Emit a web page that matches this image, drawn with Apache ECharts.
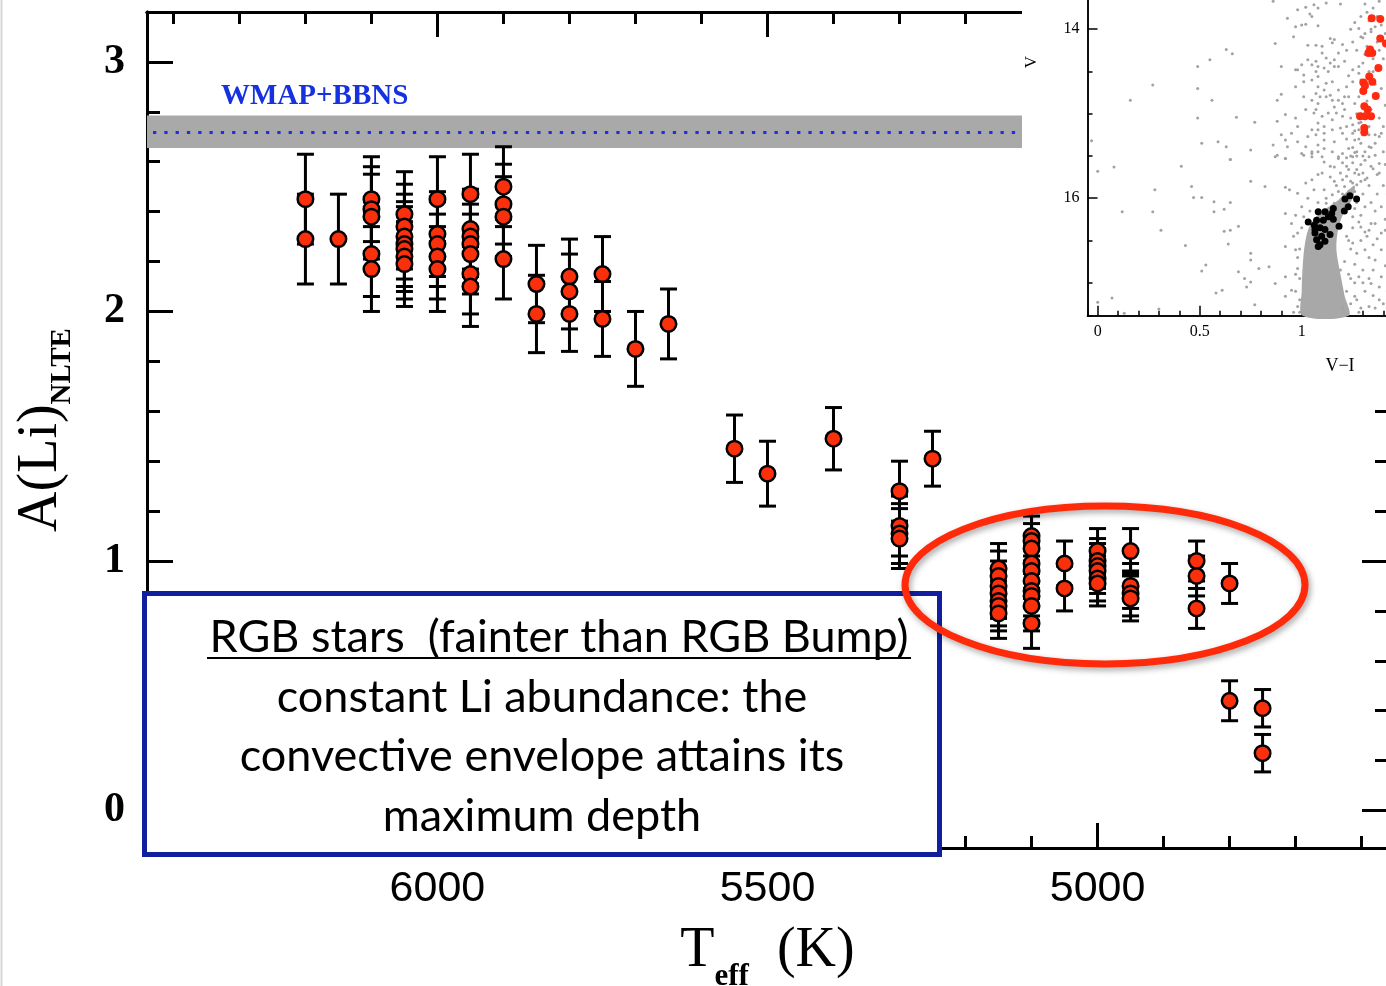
<!DOCTYPE html>
<html>
<head>
<meta charset="utf-8">
<title>A(Li) vs Teff</title>
<script src="https://cdn.jsdelivr.net/npm/echarts@6.0.0/dist/echarts.min.js"></script>
<style>
  html, body { margin: 0; padding: 0; background: #fff; }
  #chart { width: 1386px; height: 986px; }
</style>
</head>
<body>
<div id="chart"></div>
<script>
// ---- Lithium abundance of the RGB sample, one entry per star ----
const starTeff = [
  6200, 6200,
  6150,
  6100, 6100, 6100, 6100, 6100,
  6050, 6050, 6050, 6050, 6050, 6050, 6050,
  6000, 6000, 6000, 6000, 6000,
  5950, 5950, 5950, 5950, 5950, 5950, 5950,
  5900, 5900, 5900, 5900,
  5850, 5850,
  5800, 5800, 5800,
  5750, 5750,
  5700,
  5650,
  5550,
  5500,
  5400,
  5300, 5300, 5300, 5300,
  5250,
  5150, 5150, 5150, 5150, 5150, 5150, 5150,
  5100, 5100, 5100, 5100, 5100, 5100, 5100, 5100, 5100, 5100,
  5050, 5050,
  5000, 5000, 5000, 5000, 5000, 5000,
  4950, 4950, 4950, 4950,
  4850, 4850, 4850,
  4800, 4800,
  4750, 4750
];
const starALi = [
  2.45, 2.29,
  2.29,
  2.45, 2.41, 2.38, 2.23, 2.17,
  2.39, 2.34, 2.30, 2.27, 2.25, 2.22, 2.19,
  2.45, 2.31, 2.27, 2.22, 2.17,
  2.47, 2.33, 2.30, 2.27, 2.23, 2.15, 2.10,
  2.50, 2.43, 2.38, 2.21,
  2.11, 1.99,
  2.14, 2.08, 1.99,
  2.15, 1.97,
  1.85,
  1.95,
  1.45,
  1.35,
  1.49,
  1.28, 1.14, 1.11, 1.09,
  1.41,
  0.97, 0.94, 0.90, 0.87, 0.84, 0.82, 0.79,
  1.10, 1.08, 1.05, 0.99, 0.96, 0.92, 0.88, 0.86, 0.82, 0.75,
  0.99, 0.89,
  1.04, 1.00, 0.98, 0.96, 0.93, 0.91,
  1.04, 0.90, 0.87, 0.85,
  1.00, 0.94, 0.81,
  0.91, 0.44,
  0.41, 0.23
];
const starErr = [
  0.18, 0.18,
  0.18,
  0.17, 0.17, 0.17, 0.17, 0.17,
  0.17, 0.17, 0.17, 0.17, 0.17, 0.17, 0.17,
  0.17, 0.17, 0.17, 0.17, 0.17,
  0.16, 0.16, 0.16, 0.16, 0.16, 0.16, 0.16,
  0.16, 0.16, 0.16, 0.16,
  0.155, 0.155,
  0.15, 0.15, 0.15,
  0.15, 0.15,
  0.15,
  0.14,
  0.135,
  0.13,
  0.125,
  0.12, 0.12, 0.12, 0.12,
  0.11,
  0.10, 0.10, 0.10, 0.10, 0.10, 0.10, 0.10,
  0.10, 0.10, 0.10, 0.10, 0.10, 0.10, 0.10, 0.10, 0.10, 0.10,
  0.09, 0.09,
  0.09, 0.09, 0.09, 0.09, 0.09, 0.09,
  0.09, 0.09, 0.09, 0.09,
  0.08, 0.08, 0.08,
  0.08, 0.08,
  0.075, 0.075
];

// Primordial Li from WMAP + standard BBN
const bbnLi = 2.72;
const bbnLiErr = 0.065;

// Axis ranges and tick steps
const teffRange = [4560, 6440];
const teffMinorStep = 100, teffMajorStep = 500;
const aLiRange = [-0.15, 3.2];
const aLiMinorStep = 0.2, aLiMajorStep = 1;

// ---- Colour-magnitude diagram of the cluster (V-I, V) ----
const cmdField = [
  [0.86,13.67],[1.02,13.74],[1.06,13.71],[1.12,13.69],[1.19,13.70],[1.31,13.70],[1.38,13.67],
  [0.93,13.87],[0.98,13.77],[1.04,13.82],[1.05,13.85],[1.08,13.75],[0.97,13.97],[1.00,13.95],
  [1.02,13.94],[1.08,13.96],[1.26,13.92],[1.28,13.99],[1.31,14.05],[1.34,14.03],[1.36,13.97],
  [0.87,14.17],[0.96,14.09],[1.03,14.19],[1.07,14.19],[1.10,14.20],[1.15,14.16],[1.16,14.12],
  [1.14,14.11],[1.20,14.18],[1.25,14.15],[1.29,14.09],
  [0.63,14.24],[0.66,14.29],[0.55,14.36],[0.49,14.44],[0.90,14.44],[0.97,14.48],[1.00,14.42],
  [1.03,14.36],[1.07,14.38],[1.08,14.44],[1.10,14.28],[1.12,14.34],[1.14,14.40],[1.16,14.44],
  [1.18,14.28],[1.21,14.38],[1.25,14.48],[1.28,14.44],
  [0.27,14.66],[0.49,14.70],[0.97,14.68],[1.01,14.62],[1.05,14.60],[1.08,14.68],[1.12,14.64],
  [1.15,14.62],[1.18,14.72],[1.22,14.68],[1.25,14.62],
  [0.16,14.84],[0.56,14.84],[0.88,14.84],[0.90,14.77],[1.01,14.80],[1.05,14.84],[1.08,14.88],
  [1.12,14.80],[1.14,14.78],[1.18,14.84],[1.23,14.80],[1.26,14.88],
  [0.49,15.05],[0.68,15.04],[0.77,15.10],[0.88,15.09],[0.92,15.01],[0.97,15.05],[1.02,14.95],
  [1.06,14.99],[1.08,15.11],[1.11,15.15],[1.15,15.07],[1.20,15.03],[1.25,15.13],[1.28,15.11],
  [-0.03,15.32],[0.51,15.35],[0.59,15.33],[0.63,15.39],[0.86,15.37],[0.90,15.25],[0.93,15.39],
  [0.98,15.33],[1.03,15.27],[1.07,15.25],[1.08,15.37],[1.11,15.31],[1.16,15.33],[1.20,15.23],
  [1.23,15.41],[1.26,15.31],[1.29,15.35],[1.33,15.39],[1.38,15.27],[1.39,15.23],[1.33,15.25],
  [0.65,15.54],[0.75,15.43],[0.87,15.51],[0.92,15.53],[1.00,15.47],[1.05,15.45],[1.10,15.51],
  [1.18,15.51],[1.36,15.49],[1.40,15.45],
  [0.98,14.48],[1.01,14.54],[1.05,14.42],[1.07,14.50],[1.08,14.56],[1.11,14.46],[1.13,14.50],
  [1.16,14.36],[1.18,14.44],[1.07,14.76],[1.09,14.80],[1.11,14.72],[1.15,14.84],[1.16,14.92],
  [1.20,14.88],[1.07,14.95],[1.10,15.03],[1.13,14.99],[1.17,14.99],[1.21,14.95],[1.08,15.19],
  [1.11,15.23],[1.15,15.19],[1.19,15.17],[1.22,15.15],[1.25,15.23],[1.28,15.19],[1.05,15.51],
  [1.08,15.45],[1.11,15.41],[1.15,15.45],[1.20,15.47],[1.25,15.51],[1.27,15.45],[0.98,15.15],
  [0.95,15.23],[0.92,15.31],[1.02,15.39],[1.05,15.19],
  [1.32,13.80],[1.33,13.90],[1.34,14.00],[1.30,14.10],[1.32,14.20],[1.31,14.30],[1.30,14.40],
  [1.33,14.50],[1.29,14.60],[1.31,14.70],[1.28,14.80],[1.30,14.90],[1.27,15.00],[1.29,15.10],
  [1.26,15.20],[1.28,15.30],[1.25,15.40],[1.27,15.50],[1.35,14.35],[1.36,14.65],[1.34,14.95],
  [1.33,15.15],[1.31,15.45],[1.37,13.85],[1.38,14.25],
  [1.35,13.75],[1.39,13.95],[1.41,14.05],[1.37,14.15],[1.40,14.35],[1.42,14.55],[1.39,14.70],
  [1.41,14.90],[1.38,15.05],[1.40,15.15],[1.36,15.35],[1.42,15.35],[1.35,14.50],[1.32,14.85],
  [1.36,15.25],[1.30,15.25],[1.34,15.40],[1.29,15.00],[1.32,14.62],[1.28,14.52],[1.27,14.25],
  [1.29,13.85],[1.24,14.00],[1.22,14.25],[1.23,14.55],[1.21,14.80],[1.24,15.05],[1.22,15.30],
  [1.38,15.70],[1.41,15.60],[1.42,15.95],[1.39,16.10],[1.41,16.25],[1.36,16.30],
  [0.00,15.68],[0.08,15.63],[0.41,15.62],[0.65,15.54],[0.75,15.80],[0.82,15.86],[0.88,15.49],
  [0.92,15.53],[1.01,15.49],[1.05,15.47],[1.11,15.57],[1.16,15.63],[1.18,15.53],[1.23,15.66],
  [1.33,15.51],[1.38,15.59],
  [0.28,15.90],[0.46,15.86],[0.47,15.99],[0.51,15.99],[0.57,16.04],[0.65,16.05],[0.12,16.16],
  [0.27,16.16],[0.57,16.16],[0.62,16.13],
  [0.92,15.87],[0.94,15.90],[0.98,15.94],[1.02,15.82],[1.05,15.78],[1.08,15.72],[1.11,15.90],
  [1.20,15.78],[1.25,15.82],[1.31,15.78],[1.37,15.72],
  [1.20,15.58],[1.22,15.62],[1.25,15.58],[1.27,15.66],[1.28,15.72],[1.22,15.74],[1.24,15.80],
  [1.27,15.84],[1.29,15.80],[1.19,15.70],[1.16,15.80],[1.21,15.86],[1.23,15.92],[1.26,15.92],
  [1.18,15.92],[1.15,15.96],[1.12,16.06],[1.16,16.06],[1.19,16.05],[1.30,15.70],[1.32,15.76],
  [1.34,15.62],[1.30,15.50],[1.26,15.46],[1.22,15.52],[1.14,15.62],[1.10,15.70],[1.06,15.90],
  [1.03,16.00],[1.00,16.10],[0.97,16.20],[1.26,16.12],[1.31,16.10],[1.34,16.05],[1.37,15.95],
  [1.40,15.85],[1.28,16.28],[1.33,16.38],[1.37,16.48],[1.41,16.38],
  [0.31,16.38],[0.62,16.39],[0.65,16.38],[0.69,16.33],[0.92,16.18],[0.95,16.30],[0.98,16.41],
  [1.01,16.22],[1.25,16.22],[1.29,16.34],[1.34,16.30],[1.39,16.41],
  [0.43,16.56],[0.64,16.54],[0.75,16.65],[0.75,16.73],[0.92,16.57],[0.97,16.61],[1.25,16.53],
  [1.31,16.61],[1.36,16.73],[1.39,16.61],
  [0.53,16.79],[0.51,16.86],[0.69,16.87],[0.72,16.95],[0.75,16.99],[0.79,16.83],[0.84,16.81],
  [0.87,17.01],[0.92,16.93],[0.95,17.09],[0.98,16.83],[1.28,16.93],[1.34,17.01],[1.39,16.93],
  [0.00,17.23],[0.07,17.18],[0.30,17.31],[0.58,17.12],[0.61,17.09],[0.73,17.05],[0.77,17.26],
  [0.92,17.16],[0.98,17.28],[1.26,17.16],[1.33,17.28],[1.38,17.20],[0.13,17.36],
  [1.22,16.45],[1.24,16.60],[1.21,16.75],[1.23,16.90],[1.26,17.00],[1.22,17.10],[1.24,17.25],
  [1.28,17.35],[1.30,16.85],[1.32,16.45],[1.35,16.55],[1.29,16.20],[1.36,16.15],[1.31,17.10],
  [1.36,17.30],[1.27,16.05],[1.30,15.95],[1.33,15.85],[1.26,15.70],[1.29,15.60],[1.24,15.50],
  [1.31,15.55],[1.35,15.65],[1.20,15.95],[1.23,16.05],[1.17,15.85],[1.14,15.75],[1.12,16.00],
  [1.08,16.05],[1.04,16.15],[1.00,16.35],[0.99,16.60],[0.97,16.90],[0.99,17.20],[0.96,17.35],
  [1.19,16.85],[1.20,17.30],[1.27,16.65],[1.25,16.35],[1.33,16.95],
  [1.23,16.50],[1.26,16.78],[1.29,16.50],[1.24,16.95],[1.27,17.20],[1.30,17.00],[1.33,16.70],
  [1.35,16.85],[1.38,17.05],[1.41,16.80],[1.40,17.25],[1.31,16.40],[1.29,17.30],[1.35,17.15],
  [1.42,17.10],[0.98,16.70],[0.99,16.95],[0.97,17.10],[0.99,17.35],[0.96,16.45]
];
// Outline of the densely populated turn-off / lower RGB region
const cmdCore = [
  [1.005,17.39],[1.00,17.10],[1.005,16.80],[1.015,16.55],[1.035,16.35],[1.07,16.22],[1.12,16.12],
  [1.18,16.02],[1.23,15.90],[1.26,15.85],[1.25,16.00],[1.21,16.15],[1.18,16.35],[1.17,16.60],
  [1.19,16.90],[1.21,17.15],[1.23,17.39]
];
// Li targets above the bump (red) and below it (black)
const cmdUpperRgb = [
  [1.343,13.87],[1.385,13.88],[1.385,14.11],[1.413,14.17],[1.335,14.24],[1.346,14.28],[1.327,14.28],
  [1.376,14.46],[1.331,14.56],[1.302,14.63],[1.346,14.62],[1.310,14.67],[1.302,14.73],[1.363,14.79],
  [1.307,14.91],[1.323,14.95],[1.286,15.03],[1.310,15.03],[1.340,15.03],[1.307,15.17],[1.307,15.22]
];
const cmdLowerRgb = [
  [1.212,16.01],[1.236,15.97],[1.269,16.01],[1.228,16.10],[1.209,16.15],[1.155,16.12],[1.147,16.18],
  [1.114,16.16],[1.081,16.16],[1.073,16.26],[1.032,16.28],[1.062,16.32],[1.065,16.37],[1.090,16.35],
  [1.114,16.37],[1.155,16.25],[1.183,16.33],[1.139,16.43],[1.098,16.45],[1.065,16.41],[1.073,16.49],
  [1.090,16.55],[1.081,16.57],[1.114,16.51],[1.131,16.22],[1.106,16.26]
];
const cmdColorRange = [-0.05, 1.45];
const cmdMagRange = [13.5, 17.39];

// ---------------------------------------------------------------
const chart = echarts.init(document.getElementById('chart'), null, { renderer: 'canvas' });

const BLACK = '#000';
const SERIF = '"Liberation Serif", "DejaVu Serif", serif';
const SANS = '"Liberation Sans", Arial, sans-serif';
const BOX_FONT = '45px Lato, "Open Sans", sans-serif';
const INSET_Z = 40;

function isMultiple(v, step) {
  const r = v / step;
  return Math.abs(r - Math.round(r)) < 1e-7;
}

// A value axis whose ticks fall on multiples of `step` even though the range ends are not.
function stepAxis(base, range, step, extra) {
  return Object.assign({
    type: 'value',
    min: range[0],
    max: range[1],
    minInterval: step,
    maxInterval: step,
    splitNumber: Math.max(1, Math.round((range[1] - range[0]) / step)),
    splitLine: { show: false },
    axisLabel: { show: false }
  }, base, extra);
}

function mainTicks(len) {
  return { show: true, inside: true, length: len, lineStyle: { color: BLACK, width: 3 } };
}
const mainLine = { show: true, onZero: false, lineStyle: { color: BLACK, width: 3 } };
const insetLine = { show: true, onZero: false, lineStyle: { color: BLACK, width: 1.5 } };
function insetTicks(len) {
  return { show: true, inside: true, length: len, lineStyle: { color: BLACK, width: 1.5 } };
}

const xAxes = [
  stepAxis({ gridIndex: 0, position: 'bottom', inverse: true }, teffRange, teffMinorStep,
    { axisLine: mainLine, axisTick: mainTicks(12) }),
  stepAxis({ gridIndex: 0, position: 'bottom', inverse: true }, teffRange, teffMajorStep, {
    axisLine: mainLine,
    axisTick: mainTicks(25),
    axisLabel: {
      show: true, margin: 20, showMinLabel: false, showMaxLabel: false,
      color: BLACK, fontFamily: SANS, fontSize: 43,
      formatter: v => isMultiple(v, teffMajorStep) ? String(v) : ''
    },
    name: '{t|T}{s|eff}{t|  (K)}',
    nameLocation: 'middle',
    nameGap: 62,
    nameTextStyle: {
      rich: {
        t: { fontFamily: SERIF, fontSize: 56, color: BLACK, lineHeight: 82, verticalAlign: 'middle' },
        s: { fontFamily: SERIF, fontSize: 31, fontWeight: 'bold', color: BLACK, lineHeight: 30, verticalAlign: 'bottom' }
      }
    }
  }),
  stepAxis({ gridIndex: 0, position: 'top', inverse: true }, teffRange, teffMinorStep,
    { axisLine: mainLine, axisTick: mainTicks(12) }),
  stepAxis({ gridIndex: 0, position: 'top', inverse: true }, teffRange, teffMajorStep,
    { axisLine: mainLine, axisTick: mainTicks(25) }),
  // inset: V-I
  stepAxis({ gridIndex: 1, position: 'bottom', z: INSET_Z + 1 }, cmdColorRange, 0.1, {
    axisLine: insetLine, axisTick: insetTicks(5)
  }),
  stepAxis({ gridIndex: 1, position: 'bottom', z: INSET_Z + 1 }, cmdColorRange, 0.5, {
    axisLine: insetLine,
    axisTick: insetTicks(10),
    axisLabel: {
      show: true, margin: 8, showMinLabel: false, showMaxLabel: false,
      color: BLACK, fontFamily: SERIF, fontSize: 16,
      formatter: v => isMultiple(v, 0.5) ? String(+v.toFixed(1)) : ''
    }
  })
];

const yAxes = [
  stepAxis({ gridIndex: 0, position: 'left' }, aLiRange, aLiMinorStep,
    { axisLine: mainLine, axisTick: mainTicks(13) }),
  stepAxis({ gridIndex: 0, position: 'left' }, aLiRange, aLiMajorStep, {
    axisLine: mainLine,
    axisTick: mainTicks(26),
    axisLabel: {
      show: true, margin: 22, showMinLabel: false, showMaxLabel: false,
      color: BLACK, fontFamily: SERIF, fontWeight: 'bold', fontSize: 42,
      formatter: v => isMultiple(v, 1) ? String(Math.round(v)) : ''
    },
    name: '{a|A(Li)}{s|NLTE}',
    nameLocation: 'middle',
    nameRotate: 90,
    nameGap: 70,
    nameTextStyle: {
      rich: {
        a: { fontFamily: SERIF, fontSize: 56, color: BLACK, lineHeight: 72, verticalAlign: 'middle' },
        s: { fontFamily: SERIF, fontSize: 29, fontWeight: 'bold', color: BLACK, lineHeight: 30, verticalAlign: 'bottom' }
      }
    }
  }),
  stepAxis({ gridIndex: 0, position: 'right' }, aLiRange, aLiMinorStep,
    { axisLine: mainLine, axisTick: mainTicks(13) }),
  stepAxis({ gridIndex: 0, position: 'right' }, aLiRange, aLiMajorStep,
    { axisLine: mainLine, axisTick: mainTicks(26) }),
  // inset: V
  stepAxis({ gridIndex: 1, position: 'left', inverse: true, z: INSET_Z + 1 }, cmdMagRange, 0.5, {
    axisLine: insetLine, axisTick: insetTicks(5)
  }),
  stepAxis({ gridIndex: 1, position: 'left', inverse: true, z: INSET_Z + 1 }, cmdMagRange, 2, {
    axisLine: insetLine,
    axisTick: insetTicks(10),
    axisLabel: {
      show: true, margin: 8, showMinLabel: false, showMaxLabel: false,
      color: BLACK, fontFamily: SERIF, fontSize: 16,
      formatter: v => isMultiple(v, 2) ? String(Math.round(v)) : ''
    }
  })
];

const starData = starTeff.map((t, i) => [t, starALi[i], starErr[i]]);

function errorBar(params, api) {
  const x = api.value(0), y = api.value(1), e = api.value(2);
  const hi = api.coord([x, y + e]);
  const lo = api.coord([x, y - e]);
  const half = 8.5;
  const style = { stroke: BLACK, lineWidth: 3, fill: null };
  return {
    type: 'group',
    children: [
      { type: 'line', shape: { x1: hi[0], y1: hi[1], x2: lo[0], y2: lo[1] }, style },
      { type: 'line', shape: { x1: hi[0] - half, y1: hi[1], x2: hi[0] + half, y2: hi[1] }, style },
      { type: 'line', shape: { x1: lo[0] - half, y1: lo[1], x2: lo[0] + half, y2: lo[1] }, style }
    ]
  };
}

function centred(text, x, y, font, z) {
  return { type: 'text', z, silent: true, x, y,
    style: { text, font, fill: BLACK, align: 'center', verticalAlign: 'middle',
      textAlign: 'center', textVerticalAlign: 'middle' } };
}

const option = {
  animation: false,
  backgroundColor: '#fff',
  grid: [
    { left: 147, top: 12, right: -2, bottom: 138, containLabel: false, outerBoundsMode: 'none' },
    { left: 1087.5, top: -13, width: 306, height: 328.7, containLabel: false, outerBoundsMode: 'none' }
  ],
  xAxis: xAxes,
  yAxis: yAxes,
  series: [
    {
      name: 'WMAP+BBN',
      type: 'custom',
      xAxisIndex: 0, yAxisIndex: 0,
      z: 2,
      silent: true,
      encode: { x: 0, y: 1 },
      data: starData,
      renderItem: errorBar,
      markArea: {
        silent: true,
        itemStyle: { color: '#a9a9a9' },
        data: [[{ yAxis: bbnLi - bbnLiErr }, { yAxis: bbnLi + bbnLiErr }]]
      },
      markLine: {
        silent: true,
        symbol: 'none',
        label: { show: false },
        lineStyle: { color: '#1f2ee6', width: 3, type: [3.3, 8], cap: 'butt' },
        data: [{ yAxis: bbnLi }]
      }
    },
    {
      name: 'A(Li)',
      type: 'scatter',
      xAxisIndex: 0, yAxisIndex: 0,
      z: 3,
      symbol: 'circle',
      symbolSize: 15.5,
      itemStyle: { color: '#fa300c', borderColor: BLACK, borderWidth: 2.5, opacity: 1 },
      data: starData.map(d => [d[0], d[1]])
    },
    {
      name: 'core',
      type: 'custom',
      xAxisIndex: 4, yAxisIndex: 4,
      z: INSET_Z + 2,
      silent: true,
      data: [cmdCore[0]],
      renderItem: (params, api) => ({
        type: 'polygon',
        shape: { points: cmdCore.map(p => api.coord(p)), smooth: 0.3 },
        style: { fill: '#a8a8a8' }
      })
    },
    {
      name: 'field',
      type: 'scatter',
      xAxisIndex: 4, yAxisIndex: 4,
      z: INSET_Z + 2,
      silent: true,
      symbolSize: 3,
      itemStyle: { color: '#a2a2a2', opacity: 1 },
      data: cmdField
    },
    {
      name: 'upper RGB',
      type: 'scatter',
      xAxisIndex: 4, yAxisIndex: 4,
      z: INSET_Z + 3,
      silent: true,
      symbolSize: 8,
      itemStyle: { color: '#ff2a10', opacity: 1 },
      data: cmdUpperRgb
    },
    {
      name: 'lower RGB',
      type: 'scatter',
      xAxisIndex: 4, yAxisIndex: 4,
      z: INSET_Z + 3,
      silent: true,
      symbolSize: 7,
      itemStyle: { color: '#000', opacity: 1 },
      data: cmdLowerRgb
    }
  ],
  graphic: [
    // slide edge
    { type: 'line', z: 60, silent: true, shape: { x1: 1.5, y1: 0, x2: 1.5, y2: 986 },
      style: { stroke: '#d6d6d6', lineWidth: 2 } },
    // inset panel background
    { type: 'rect', z: INSET_Z, silent: true, shape: { x: 1022, y: 0, width: 364, height: 398 },
      style: { fill: '#fff' } },
    { type: 'text', z: INSET_Z + 4, silent: true, x: 1032, y: 62, rotation: Math.PI / 2,
      style: { text: 'V', font: '17px ' + SERIF, fill: BLACK,
        align: 'center', verticalAlign: 'middle', textAlign: 'center', textVerticalAlign: 'middle' } },
    centred('V\u2212I', 1340, 366, '18px ' + SERIF, INSET_Z + 4),
    // primordial Li label
    { type: 'text', z: 10, silent: true, x: 221, y: 97,
      style: { text: 'WMAP+BBNS', font: 'bold 29px ' + SERIF, fill: '#1631e0',
        align: 'left', verticalAlign: 'middle', textAlign: 'left', textVerticalAlign: 'middle' } },
    // text box
    { type: 'rect', z: 20, silent: true, shape: { x: 144.5, y: 593.5, width: 795, height: 261 },
      style: { fill: '#fff', stroke: '#0f1f9e', lineWidth: 5 } },
    centred('RGB stars  (fainter than RGB Bump)', 559, 637, BOX_FONT, 21),
    { type: 'line', z: 21, silent: true, shape: { x1: 207, y1: 658, x2: 911, y2: 658 },
      style: { stroke: BLACK, lineWidth: 2 } },
    centred('constant Li abundance: the', 542, 697, BOX_FONT, 21),
    centred('convective envelope attains its', 542, 756, BOX_FONT, 21),
    centred('maximum depth', 542, 816, BOX_FONT, 21),
    // highlight of the constant-Li group
    { type: 'ellipse', z: 20, silent: true, shape: { cx: 1105, cy: 585, rx: 200, ry: 79 },
      style: { fill: null, stroke: '#ff2a0a', lineWidth: 7,
        shadowBlur: 6, shadowColor: 'rgba(0,0,0,0.35)', shadowOffsetX: 2, shadowOffsetY: 3 } }
  ]
};

chart.setOption(option);
</script>
</body>
</html>
